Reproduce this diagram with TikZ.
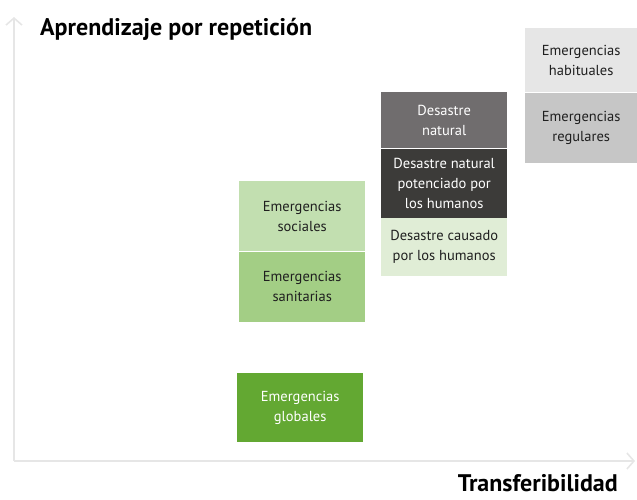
\documentclass[tikz,border=0pt]{standalone}
\usepackage{fontspec}
\setmainfont{PT Sans}
\usetikzlibrary{arrows.meta, positioning}

\definecolor{axisgray}{HTML}{E6E6E6}
\definecolor{habitual}{HTML}{E6E6E6}
\definecolor{regular}{HTML}{C6C6C6}
\definecolor{natural}{HTML}{706D6E}
\definecolor{potenciado}{HTML}{3C3B39}
\definecolor{causado}{HTML}{E0EDD6}
\definecolor{social}{HTML}{C2DFB0}
\definecolor{sanitaria}{HTML}{A3CE85}
\definecolor{global}{HTML}{63A832}

\begin{document}
\begin{tikzpicture}[
        x=1pt, y=-1pt,
        every node/.style={font=\fontsize{14.5}{20}\selectfont}, % texto de las cajas
        cell/.style={rectangle, inner sep=0pt, minimum width=126pt, align=center, text=black!88},
        dark_cell/.style={cell, text=white},
        axis_style/.style={-{Straight Barb[length=7pt, width=16pt]}, line width=1.6pt, draw=axisgray},
        axis_label/.style={inner sep=0pt, font=\bfseries\fontsize{24}{28}\selectfont}
    ]
        \useasboundingbox (0,0) rectangle (637,499);

        % --- Ejes ---
        \coordinate (origin) at (14,461);
        \coordinate (y_end) at (14,17);
        \coordinate (x_end) at (635,461);
        \draw[axis_style] (origin) -- (y_end);
        \draw[axis_style] (origin) -- (x_end);

        \node[axis_label, anchor=base west] (y_label) at (40,35) {Aprendizaje por repetición};
        \node[axis_label, anchor=base east] (x_label) at (618,491) {Transferibilidad};

        % --- Columna verde ---
        \node[cell, fill=social, minimum height=70pt, anchor=north west] (sociales) at (239,181) {Emergencias\\sociales};
        \node[cell, fill=sanitaria, minimum height=70pt, below=0pt of sociales] (sanitarias) {Emergencias\\sanitarias};
        \node[dark_cell, fill=global, minimum height=69pt, anchor=north west] (globales) at (237,373) {Emergencias\\globales};

        % --- Columna de desastres ---
        \node[dark_cell, fill=natural, minimum height=56pt, anchor=north west] (natural) at (381,92) {Desastre\\natural};
        \node[dark_cell, fill=potenciado, minimum height=69pt, below=0pt of natural] (potenciado) {Desastre natural\\potenciado por\\los humanos};
        \node[cell, fill=causado, minimum height=58pt, below=0pt of potenciado] (causado) {Desastre causado\\por los humanos};

        % --- Columna gris ---
        \node[cell, fill=habitual, minimum width=112pt, minimum height=64pt, anchor=north west] (habituales) at (525,28) {Emergencias\\habituales};
        \node[cell, fill=regular, minimum width=112pt, minimum height=70pt, below=0pt of habituales] (regulares) {Emergencias\\regulares};
    \end{tikzpicture}
\end{document}
